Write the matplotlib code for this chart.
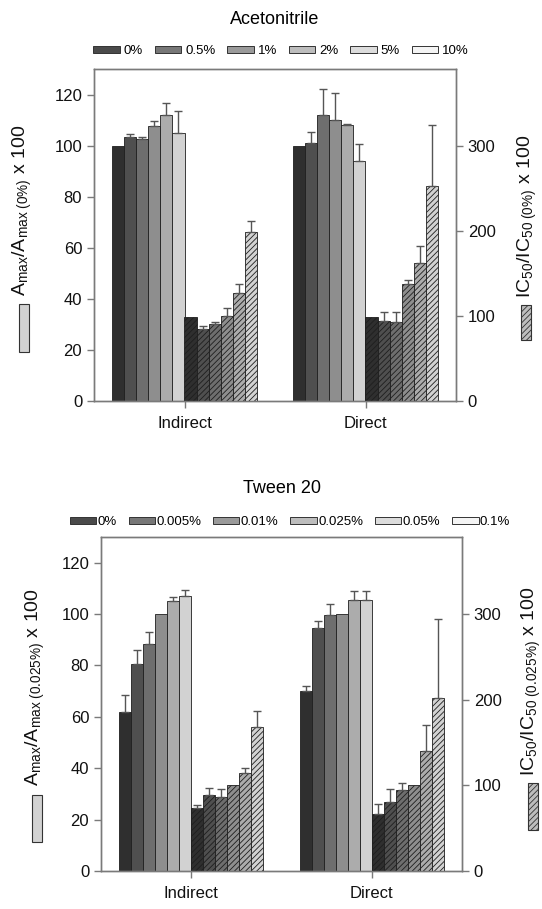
import matplotlib
matplotlib.use('Agg')
import matplotlib.pyplot as plt
from matplotlib.patches import Patch, Rectangle

plt.rcParams['font.family'] = ['Liberation Sans', 'DejaVu Sans']
plt.rcParams['mathtext.fontset'] = 'custom'
plt.rcParams['mathtext.rm'] = 'Liberation Sans'
plt.rcParams['mathtext.it'] = 'Liberation Sans'
plt.rcParams['hatch.linewidth'] = 0.6

groups = ['Indirect', 'Direct']

# Acetonitrile panel
acn_levels = ['0%', '0.5%', '1%', '2%', '5%', '10%']
acn_amax = [[100, 103.5, 102.5, 107.5, 112, 105], [100, 101, 112, 110, 108, 94]]
acn_amax_err = [[0, 1, 1, 2, 4.5, 8.5], [0, 4.5, 10, 10.5, 0.5, 6.5]]
acn_ic50 = [[99, 85, 91, 100, 127, 199], [99, 94, 93, 137, 162, 252]]
acn_ic50_err = [[0, 3, 1.5, 9, 10, 12], [0, 11, 12, 5, 20, 72]]

# Tween 20 panel
tw_levels = ['0%', '0.005%', '0.01%', '0.025%', '0.05%', '0.1%']
tw_amax = [[62, 80.5, 88.5, 100, 105, 107], [70, 94.5, 99.5, 100, 105.5, 105.5]]
tw_amax_err = [[6.5, 5.5, 4.5, 0, 1.5, 2.5], [2, 3, 4.5, 0, 3.5, 3.5]]
tw_ic50 = [[74, 89, 86, 100, 115, 168], [67, 81, 94, 100, 140, 202]]
tw_ic50_err = [[3, 8, 9.5, 0, 5, 19], [11, 14.5, 9, 0, 31, 92]]

bar_colors = ['#2f2f2f', '#4f4f4f', '#6e6e6e', '#8e8e8e', '#acacac', '#d2d2d2']
leg_colors = ['#4a4a4a', '#777777', '#9a9a9a', '#bdbdbd', '#dcdcdc', '#f4f4f4']
spine_c = '#7a7a7a'

fig = plt.figure(figsize=(5.42, 9.09), dpi=100)


def draw_panel(rect, levels, amax, amax_err, ic50, ic50_err):
    ax = fig.add_axes(rect)
    ax2 = ax.twinx()
    n = len(levels)
    w = 0.8 / (2 * n)
    for g in range(len(groups)):
        for i in range(n):
            x = g - 0.4 + w * (i + 0.5)
            ax.bar(x, amax[g][i], w, color=bar_colors[i], edgecolor='#1e1e1e',
                   linewidth=0.6, zorder=2)
            if amax_err[g][i] > 0:
                ax.errorbar(x, amax[g][i], yerr=[[0], [amax_err[g][i]]], fmt='none',
                            ecolor='#555555', elinewidth=1, capsize=3, capthick=1, zorder=3)
            x2 = g - 0.4 + w * (n + i + 0.5)
            ax2.bar(x2, ic50[g][i], w, color=bar_colors[i], edgecolor='#1e1e1e',
                    linewidth=0.6, hatch='//////', zorder=2)
            if ic50_err[g][i] > 0:
                ax2.errorbar(x2, ic50[g][i], yerr=[[0], [ic50_err[g][i]]], fmt='none',
                             ecolor='#555555', elinewidth=1, capsize=3, capthick=1, zorder=3)
    ax.set_xlim(-0.5, 1.5)
    ax.set_ylim(0, 130)
    ax.set_yticks(range(0, 121, 20))
    ax2.set_ylim(0, 390)
    ax2.set_yticks([0, 100, 200, 300])
    ax.set_xticks(range(len(groups)))
    ax.set_xticklabels(groups, fontsize=12)
    for a in (ax, ax2):
        for s in a.spines.values():
            s.set_color(spine_c)
            s.set_linewidth(1)
        a.tick_params(axis='both', colors=spine_c, labelcolor='#111111',
                      labelsize=12, length=5, width=1)
    ax.tick_params(axis='x', pad=6)
    return ax, ax2


def side_label(x, y, text, box, hatch):
    fig.text(x, y, text, rotation=90, ha='center', va='bottom', fontsize=14, color='#111111')
    x0, y0, x1, y1 = box
    r = Rectangle((x0 / 542, 1 - y1 / 909), (x1 - x0) / 542, (y1 - y0) / 909,
                  transform=fig.transFigure, facecolor='#d2d2d2' if not hatch else '#bdbdbd',
                  edgecolor='#333333', linewidth=0.8, hatch=hatch)
    fig.patches.append(r)


def legend(levels, x, y, pad):
    handles = [Patch(facecolor=leg_colors[i], edgecolor='#333333', linewidth=0.7)
               for i in range(len(levels))]
    fig.legend(handles, levels, loc='center', bbox_to_anchor=(x, y), ncol=6,
               frameon=False, fontsize=9.5, handlelength=2.0, handleheight=0.45,
               columnspacing=0.9, handletextpad=pad, borderaxespad=0)


# top panel
draw_panel([94 / 542, 1 - 401 / 909, 362 / 542, 332 / 909],
           acn_levels, acn_amax, acn_amax_err, acn_ic50, acn_ic50_err)
fig.text(275 / 542, 1 - 20 / 909, 'Acetonitrile', ha='center', va='center', fontsize=13)
legend(acn_levels, 281 / 542, 1 - 51 / 909, 0.3)
side_label(22 / 542, 1 - 296 / 909,
           r'A$_{\mathregular{max}}$/A$_{\mathregular{max\ (0\%)}}$ x 100',
           (19, 304, 29, 352), None)
side_label(527 / 542, 1 - 298 / 909,
           r'IC$_{\mathregular{50}}$/IC$_{\mathregular{50\ (0\%)}}$ x 100',
           (521, 305, 531, 340), '//////')

# bottom panel
draw_panel([101 / 542, 1 - 871 / 909, 361 / 542, 334 / 909],
           tw_levels, tw_amax, tw_amax_err, tw_ic50, tw_ic50_err)
fig.text(282 / 542, 1 - 489 / 909, 'Tween 20', ha='center', va='center', fontsize=13)
legend(tw_levels, 290 / 542, 1 - 522 / 909, 0.1)
side_label(35 / 542, 1 - 786 / 909,
           r'A$_{\mathregular{max}}$/A$_{\mathregular{max\ (0.025\%)}}$ x 100',
           (32, 795, 42, 842), None)
side_label(531 / 542, 1 - 776 / 909,
           r'IC$_{\mathregular{50}}$/IC$_{\mathregular{50\ (0.025\%)}}$ x 100',
           (528, 783, 538, 830), '//////')

fig.savefig('out.png', dpi=100)
